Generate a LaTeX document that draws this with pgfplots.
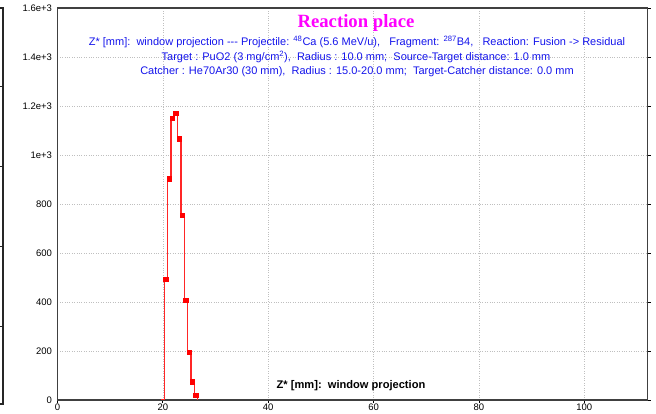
\documentclass[border=0pt]{standalone}
\usepackage{fontspec}
\setmainfont{Liberation Sans}
\newfontfamily\serifb{Liberation Serif}
\usepackage{pgfplots}
\usepackage{pgfplotstable}
\pgfplotsset{compat=1.18}
\definecolor{ttl}{RGB}{255,0,255}
\definecolor{sub}{RGB}{20,20,235}
\definecolor{hred}{RGB}{255,0,0}
\pgfplotstableread{
x y
19.60 0
20.30 494
20.93 903
21.56 1151
22.19 1170
22.82 1067
23.45 754
24.08 408
24.71 194
25.34 75
25.97 19
26.60 0
}\steps
\pgfplotstableread{
x y
20.56 494
21.19 903
21.82 1151
22.45 1170
23.08 1067
23.71 754
24.34 408
24.97 194
25.60 75
26.27 19
}\marks
\begin{document}
\begin{tikzpicture}
\useasboundingbox (0pt,0pt) rectangle (656pt,414pt);
\begin{axis}[
  at={(57.5pt,14pt)}, anchor=south west,
  scale only axis, width=590pt, height=392pt,
  xmin=0, xmax=112, ymin=0, ymax=1600,
  xtick={0,20,40,60,80,100},
  ytick={0,200,400,600,800,1000,1200,1400,1600},
  yticklabels={0,200,400,600,800,1e+3,1.2e+3,1.4e+3,1.6e+3},
  scaled ticks=false,
  /pgf/number format/assume math mode=true,
  tick label style={font=\fontsize{9.5}{11}\selectfont},
  xticklabel style={yshift=3pt},
  yticklabel style={xshift=1pt},
  grid=major,
  major grid style={dotted, gray!50, line width=0.6pt},
  axis line style={black!75, line width=1.6pt},
  tick align=outside,
  major tick length=3pt,
  tick style={black, line width=0.8pt},
  xtick pos=bottom, ytick pos=right, yticklabel pos=left,
]
\addplot[const plot, hred!85, line width=1.4pt, mark=none] table[x=x,y=y]{\steps};
\addplot[only marks, hred, mark=square*, mark size=2.2pt] table[x=x,y=y]{\marks};
\end{axis}
% decorative left frame sliver
\draw[black!85, line width=1.4pt] (0pt,406pt) -- (3pt,406pt) -- (3pt,10pt) -- (0pt,10pt);
\foreach \yy in {327,247,167,87} \draw[black!85, line width=1pt] (0pt,414pt-\yy pt) -- (3pt,414pt-\yy pt);
\node[ttl, font=\serifb\bfseries\fontsize{18.7}{22}\selectfont] at (356pt,391pt) {Reaction place};
\node[sub, font=\fontsize{11}{13}\selectfont] at (357pt,372pt) {Z* [mm]:\ \ window projection -{}-{}- Projectile: \textsuperscript{48}Ca (5.6 MeV/u),\ \ \ Fragment: \textsuperscript{287}B4,\ \ \ Reaction: Fusion -> Residual};
\node[sub, font=\fontsize{11}{13}\selectfont] at (356pt,357pt) {Target : PuO2 (3 mg/cm\textsuperscript{2}),\ \ Radius : 10.0 mm;\ \ Source-Target distance: 1.0 mm};
\node[sub, font=\fontsize{11}{13}\selectfont] at (357pt,342pt) {Catcher : He70Ar30 (30 mm),\ \ Radius : 15.0-20.0 mm;\ \ Target-Catcher distance: 0.0 mm};
\node[black, font=\bfseries\fontsize{11.1}{13}\selectfont] at (351pt,28pt) {Z* [mm]:\ \ window projection};
\end{tikzpicture}
\end{document}
